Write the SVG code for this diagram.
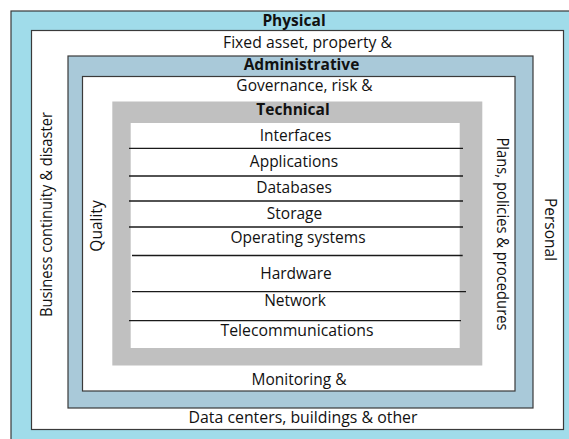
<svg xmlns="http://www.w3.org/2000/svg" width="569" height="439" viewBox="0 0 569 439">
<style>
  text { font-family: "Open Sans", "Noto Sans", "Liberation Sans", sans-serif; font-size: 15.5px; fill: #111; text-anchor: middle; }
  .title { font-weight: bold; }
  .frame { stroke: #3a3a3a; stroke-width: 1.2; }
  .sep { stroke: #1a1a1a; stroke-width: 1.3; fill: none; }
</style>
<rect x="0" y="0" width="569" height="439" fill="#ffffff"/>
<g id="physical">
  <rect class="frame" x="11" y="11" width="570" height="440" fill="#a0dcea"/>
  <rect class="frame" x="31.5" y="30.5" width="532" height="399" fill="#ffffff"/>
  <text class="title" x="294" y="25.5">Physical</text>
  <text x="307.5" y="48" textLength="169" lengthAdjust="spacingAndGlyphs">Fixed asset, property &amp;</text>
  <text x="303" y="422.5" textLength="229" lengthAdjust="spacingAndGlyphs">Data centers, buildings &amp; other</text>
  <text transform="translate(52,214.5) rotate(-90)" textLength="205" lengthAdjust="spacingAndGlyphs">Business continuity &amp; disaster</text>
  <text transform="translate(544.5,229.5) rotate(90)">Personal</text>
</g>
<g id="administrative">
  <rect class="frame" x="68" y="56" width="465" height="352" fill="#a9c9d9"/>
  <rect class="frame" x="82.5" y="76.5" width="432.5" height="314.5" fill="#ffffff"/>
  <text class="title" x="301.5" y="69.5">Administrative</text>
  <text x="304.5" y="90.5">Governance, risk &amp;</text>
  <text x="299" y="385">Monitoring &amp;</text>
  <text transform="translate(101.5,226) rotate(-90)">Quality</text>
  <text transform="translate(496.5,234) rotate(90)" textLength="193" lengthAdjust="spacingAndGlyphs">Plans, policies &amp; procedures</text>
</g>
<g id="technical">
  <rect x="112.3" y="101.5" width="370" height="264" fill="#c0c0c0"/>
  <rect x="130.7" y="123" width="329" height="225" fill="#ffffff"/>
  <text class="title" x="293" y="115">Technical</text>
</g>
<g id="layers">
  <g id="interfaces"><text x="295.5" y="140.7">Interfaces</text></g>
  <g id="applications"><text x="294" y="166.5">Applications</text></g>
  <g id="databases"><text x="294" y="193">Databases</text></g>
  <g id="storage"><text x="294.5" y="219">Storage</text></g>
  <g id="operating-systems"><text x="298" y="242.7">Operating systems</text></g>
  <g id="hardware"><text x="296" y="279">Hardware</text></g>
  <g id="network"><text x="295" y="305.7">Network</text></g>
  <g id="telecommunications"><text x="297" y="336" textLength="153" lengthAdjust="spacingAndGlyphs">Telecommunications</text></g>
</g>
<g id="connectors">
  <line class="sep" x1="129" y1="148.3" x2="463" y2="148.3"/>
  <line class="sep" x1="129" y1="176" x2="463" y2="176"/>
  <line class="sep" x1="129" y1="201" x2="463" y2="201"/>
  <line class="sep" x1="129" y1="227" x2="463" y2="227"/>
  <line class="sep" x1="132" y1="255.5" x2="462.7" y2="255.5"/>
  <line class="sep" x1="132" y1="291.7" x2="466" y2="291.7"/>
  <line class="sep" x1="129" y1="320.7" x2="461" y2="320.7"/>
</g>
</svg>
